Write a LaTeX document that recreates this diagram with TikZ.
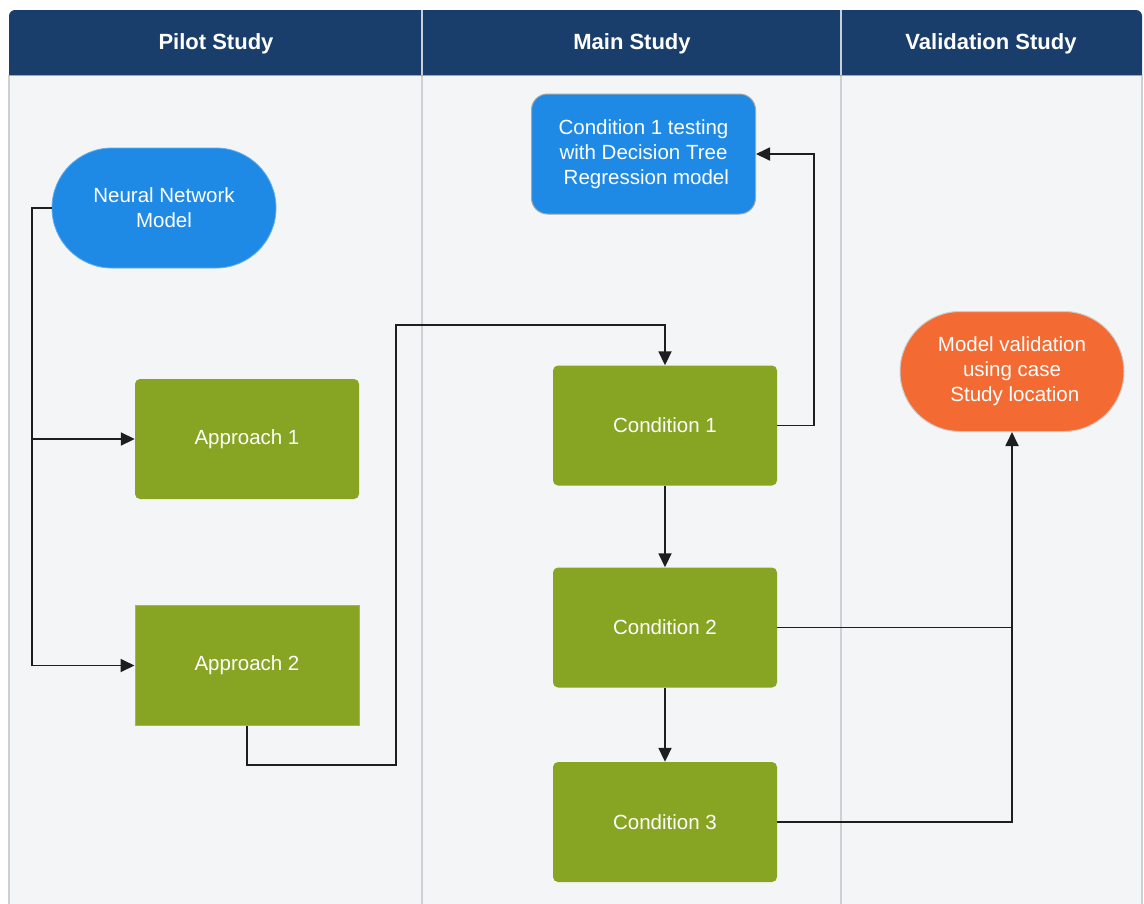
\documentclass[tikz,border=0pt]{standalone}
\usepackage{fontspec}
\setmainfont{Liberation Sans}
\usetikzlibrary{arrows.meta}
\definecolor{hdr}{HTML}{1A3E6C}
\definecolor{bodybg}{HTML}{F4F5F7}
\definecolor{lanebd}{HTML}{CDD0D5}
\definecolor{nblue}{HTML}{1E8AE5}
\definecolor{ngreen}{HTML}{87A523}
\definecolor{norange}{HTML}{F36B32}
\definecolor{lnk}{HTML}{1E1E1E}
\tikzset{
  box/.style={minimum width=224pt, minimum height=120pt, inner sep=0pt, align=center,
    text=white, font=\fontsize{20.5}{25}\selectfont},
  stadium/.style={box, rounded corners=60pt},
  greenbox/.style={box, fill=ngreen, rounded corners=5pt},
  lbl/.style={text=white, font=\fontsize{22}{26}\selectfont\bfseries},
  link/.style={draw=lnk, line width=1.8pt},
  arr/.style={link, -{Triangle[length=14pt,width=13pt]}},
}
\begin{document}
\begin{tikzpicture}[x=1pt,y=-1pt]
\useasboundingbox (0,0) rectangle (1144,903);
\fill[white] (0,0) rectangle (1144,903);
% pool body
\fill[bodybg] (9,75) rectangle (1142,905);
\draw[lanebd, line width=1.5pt] (9,75) -- (9,905);
\draw[lanebd, line width=1.5pt] (1142,75) -- (1142,905);
\draw[lanebd, line width=1.2pt] (422,75) -- (422,905);
\draw[lanebd, line width=1.2pt] (841,75) -- (841,905);
% header
\fill[hdr] (9,75) [rounded corners=6pt] -- (9,10) -- (1142,10) [sharp corners] -- (1142,75) -- cycle;
\draw[white!75!hdr, line width=1.2pt] (422,10) -- (422,75);
\draw[white!75!hdr, line width=1.2pt] (841,10) -- (841,75);
\draw[white!55!hdr, line width=1pt] (9,75) -- (1142,75);
\node[lbl] (h1) at (216,44) {Pilot Study};
\node[lbl] (h2) at (632,44) {Main Study};
\node[lbl] (h3) at (991,44) {Validation Study};
% nodes
\node[stadium, fill=nblue, draw=nblue!70!white, line width=0.8pt] (nn) at (164,208) {Neural Network\\Model};
\node[greenbox] (a1) at (247,439) {Approach 1};
\node[box, fill=ngreen, draw=gray!70, line width=1pt] (a2) at (247,665.5) {Approach 2};
\node[box, fill=nblue, draw=gray!70, line width=1pt, rounded corners=16pt] (ct) at (643.5,154) {Condition 1 testing\\with Decision Tree\\\ Regression model};
\node[greenbox] (c1) at (665,425.5) {Condition 1};
\node[greenbox] (c2) at (665,627.5) {Condition 2};
\node[greenbox] (c3) at (665,822) {Condition 3};
\node[stadium, fill=norange, draw=gray!40, line width=1pt] (mv) at (1012,371.5) {Model validation\\using case\\\ Study location};
% connectors
\coordinate (j1) at (32,208);
\coordinate (j2) at (32,439);
\coordinate (j3) at (32,665.5);
\draw[link] (nn.west) -- (j1) -- (j3);
\draw[arr] (j2) -- (a1.west);
\draw[arr] (j3) -- (a2.west);
\coordinate (k1) at (247,765);
\coordinate (k2) at (396,765);
\coordinate (k3) at (396,325);
\coordinate (k4) at (665,325);
\draw[arr] (a2.south) -- (k1) -- (k2) -- (k3) -- (k4) -- (c1.north);
\coordinate (m1) at (814,425.5);
\coordinate (m2) at (814,154);
\draw[arr] (c1.east) -- (m1) -- (m2) -- (ct.east);
\draw[arr] (c1.south) -- (c2.north);
\draw[arr] (c2.south) -- (c3.north);
\coordinate (v1) at (1012,627.5);
\coordinate (v2) at (1012,822);
\draw[arr] (c2.east) -- (v1) -- (mv.south);
\draw[link] (c3.east) -- (v2) -- (v1);
\end{tikzpicture}
\end{document}
